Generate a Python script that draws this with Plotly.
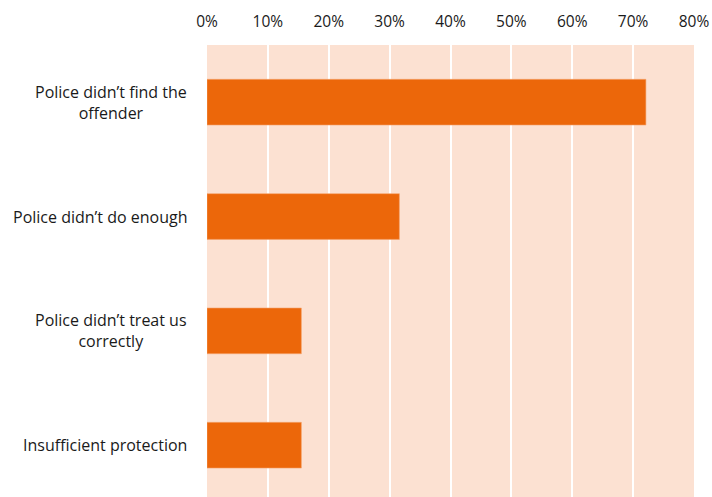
import plotly.graph_objects as go

categories = ["Police didn’t find the<br>offender", "Police didn’t do enough",
              "Police didn’t treat us<br>correctly", "Insufficient protection"]
values = [72.1, 31.6, 15.5, 15.5]
tick_vals = [0, 10, 20, 30, 40, 50, 60, 70, 80]
tick_text = ["0%", "10%", "20%", "30%", "40%", "50%", "60%", "70%", "80%"]

FONT = "Open Sans, Liberation Sans, sans-serif"

fig = go.Figure()
fig.add_trace(go.Bar(
    x=values, y=list(range(len(categories))), orientation="h",
    marker=dict(color="#EC670A", line=dict(color="#F5A56E", width=0.6)),
    width=0.4, hoverinfo="skip"))

for i, c in enumerate(categories):
    fig.add_annotation(x=0, y=i, xref="paper", yref="y", text=c, showarrow=False,
                       xanchor="right", yanchor="middle", align="center", xshift=-18,
                       font=dict(family=FONT, size=16, color="#1a1a1a"))

fig.update_layout(
    width=712, height=497,
    margin=dict(l=207, r=18, t=45, b=0, autoexpand=False),
    paper_bgcolor="white", plot_bgcolor="#FCE1D2",
    showlegend=False,
    bargap=0.6,
    xaxis=dict(side="top", range=[0, 80], tickvals=tick_vals, ticktext=tick_text,
               showgrid=True, gridcolor="white", gridwidth=2, zeroline=False,
               showline=False, ticks="", ticklabelstandoff=14, automargin=False,
               tickfont=dict(family=FONT, size=15.5, color="#1a1a1a")),
    yaxis=dict(range=[3.453, -0.5], showticklabels=False, showgrid=False,
               zeroline=False, showline=False, ticks="", automargin=False),
)

fig.write_html("out.html", config={"displayModeBar": False},
               post_script="document.body.style.margin='0';document.body.style.overflow='hidden';")
